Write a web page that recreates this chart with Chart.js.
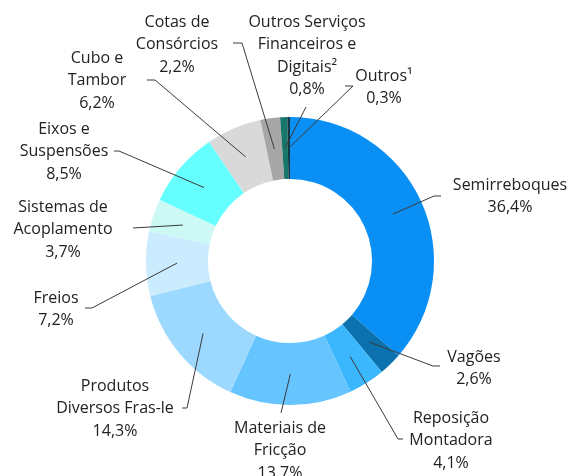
<!DOCTYPE html>
<html>
<head>
<meta charset="utf-8">
<script src="https://cdn.jsdelivr.net/npm/chart.js@4"></script>
<style>
  html, body { margin: 0; padding: 0; background: #fff; }
  #wrap { width: 569px; height: 476px; position: relative; }
</style>
</head>
<body>
<div id="wrap"><canvas id="receita-chart"></canvas></div>
<script>
// categories (line breaks as in the original labels)
const categories = [
    ["Semirreboques"],
    ["Vagões"],
    ["Reposição", "Montadora"],
    ["Materiais de", "Fricção"],
    ["Produtos", "Diversos Fras-le"],
    ["Freios"],
    ["Sistemas de", "Acoplamento"],
    ["Eixos e", "Suspensões"],
    ["Cubo e", "Tambor"],
    ["Cotas de", "Consórcios"],
    ["Outros Serviços", "Financeiros e", "Digitais²"],
    ["Outros¹"],
];
const shares = [36.4, 2.6, 4.1, 13.7, 14.3, 7.2, 3.7, 8.5, 6.2, 2.2, 0.8, 0.3];
const sliceColors = [
    "#0A90F5", "#0B72AF", "#3BB7FD", "#66C5FE", "#9DD9FE", "#CBEBFE",
    "#CDF9F4", "#66FFFF", "#D9D9D9", "#A6A6A6", "#17776A", "#0E3A47",
];

// where each label sits: text centre / first line, elbow of the leader, end of the tick
const labelLayout = [
    { tx: 510, ty: 185, ex: 434, ey: 196, hx: 441 },
    { tx: 474, ty: 357, ex: 433, ey: 366, hx: 440 },
    { tx: 451, ty: 418, ex: 398, ey: 439, hx: 403 },
    { tx: 280, ty: 428, ex: 281, ey: 413, hx: 281 },
    { tx: 115, ty: 386, ex: 187, ey: 408, hx: 182 },
    { tx: 56,  ty: 298, ex: 92,  ey: 308, hx: 85 },
    { tx: 63,  ty: 207, ex: 133, ey: 228, hx: 133 },
    { tx: 64,  ty: 129, ex: 119, ey: 151, hx: 114 },
    { tx: 97,  ty: 58,  ex: 155, ey: 80,  hx: 147 },
    { tx: 177, ty: 22,  ex: 242, ey: 43,  hx: 233 },
    { tx: 307, ty: 22,  ex: 306, ey: 107, hx: 306 },
    { tx: 384, ty: 76,  ex: 353, ey: 86,  hx: 345 },
];

const FONT = '16px "Open Sans", "Noto Sans", sans-serif';
const LINE_H = 22.5;

const pct = (v) => v.toFixed(1).replace(".", ",") + "%";

const outsideLabels = {
    id: "outsideLabels",
    afterDatasetsDraw(chart) {
        const ctx = chart.ctx;
        const arcs = chart.getDatasetMeta(0).data;
        ctx.save();
        arcs.forEach((arc, i) => {
            const pos = labelLayout[i];
            const start = arc.getCenterPoint();
            ctx.beginPath();
            ctx.strokeStyle = "#3a3a3a";
            ctx.lineWidth = 1;
            ctx.moveTo(start.x, start.y);
            ctx.lineTo(pos.ex, pos.ey);
            ctx.lineTo(pos.hx, pos.ey);
            ctx.stroke();

            ctx.fillStyle = "#222222";
            ctx.font = FONT;
            ctx.textAlign = "center";
            ctx.textBaseline = "middle";
            const lines = categories[i].concat([pct(shares[i])]);
            lines.forEach((txt, j) => {
                ctx.fillText(txt, pos.tx, pos.ty + j * LINE_H);
            });
        });
        ctx.restore();
    },
};

new Chart(document.getElementById("receita-chart"), {
    type: "doughnut",
    data: {
        labels: categories.map((c) => c.join(" ")),
        datasets: [{
            data: shares,
            backgroundColor: sliceColors,
            borderWidth: 0,
        }],
    },
    options: {
        responsive: true,
        maintainAspectRatio: false,
        animation: false,
        cutout: "57%",
        layout: {
            padding: { top: 117, bottom: 71, left: 146, right: 135 },
        },
        plugins: {
            legend: { display: false },
            tooltip: { enabled: false },
        },
    },
    plugins: [outsideLabels],
});
</script>
</body>
</html>
